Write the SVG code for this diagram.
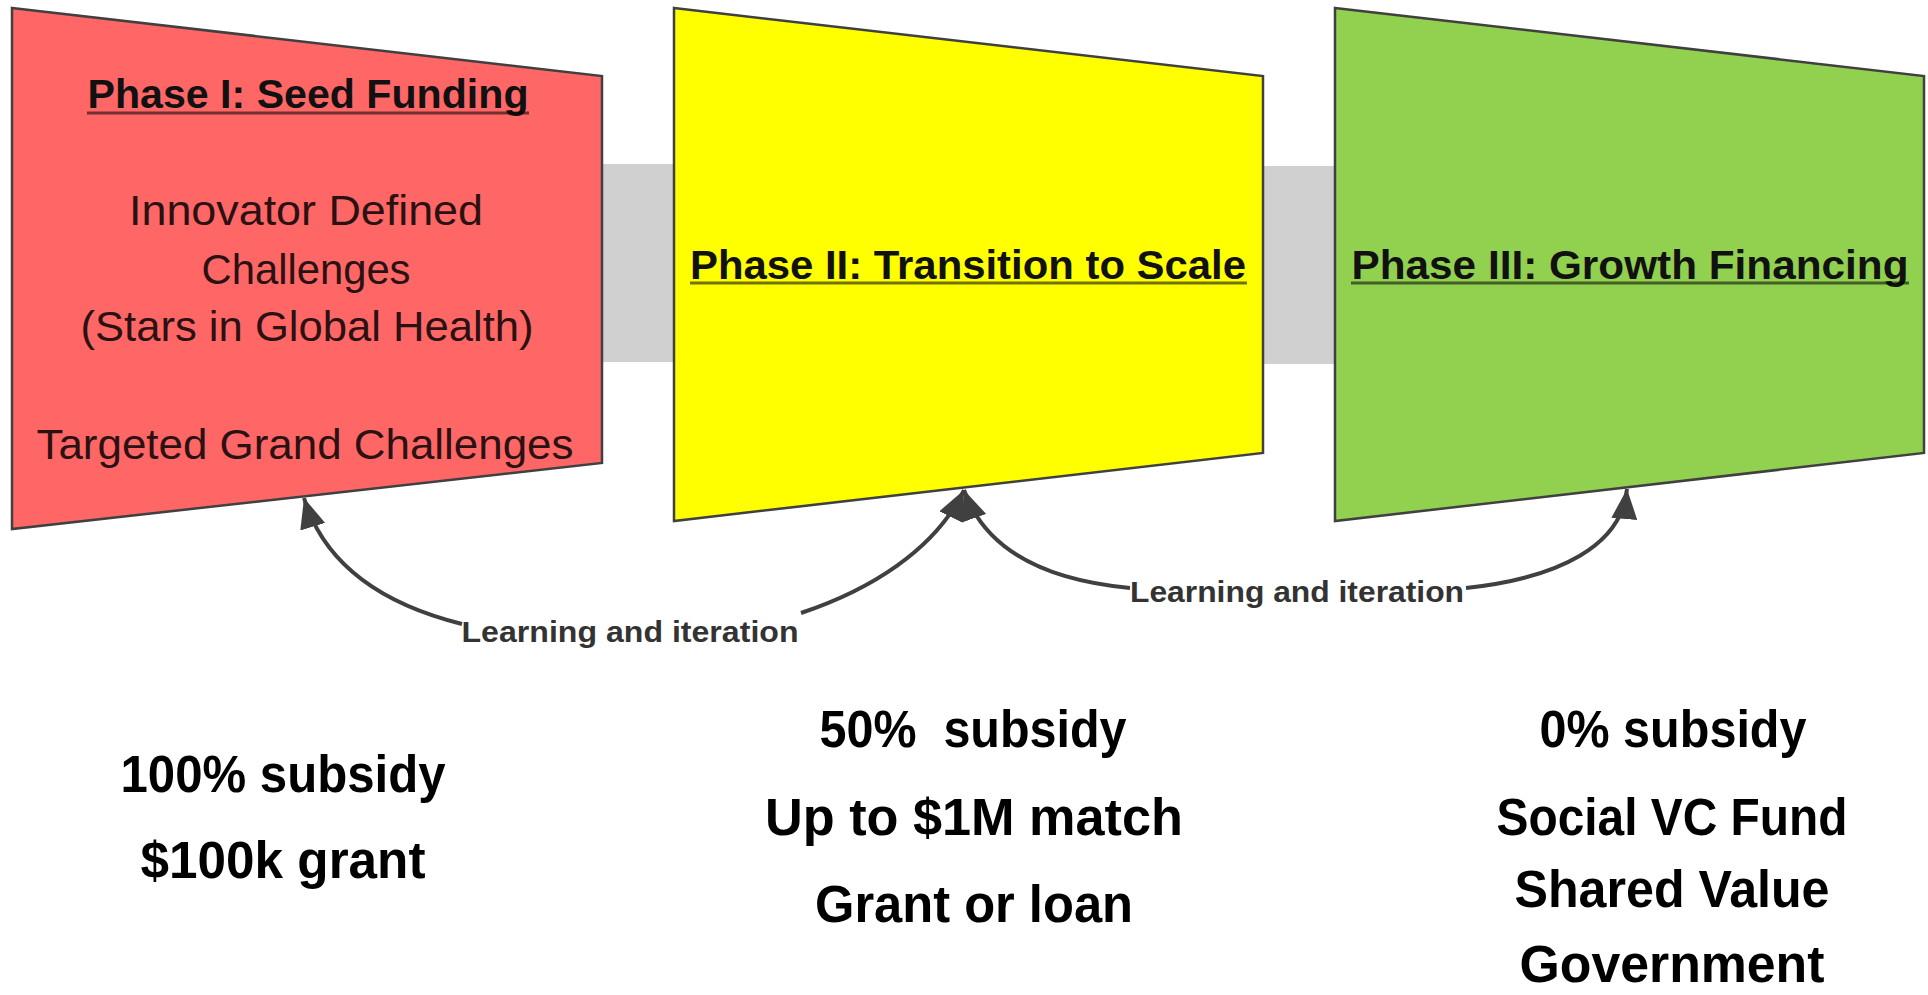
<svg xmlns="http://www.w3.org/2000/svg" width="1928" height="995" viewBox="0 0 1928 995">
<defs>
<style>
.shape{stroke:#404040;stroke-width:2.5;stroke-linejoin:miter}
.bridge{fill:#d0d0d0}
.title{font-family:"Liberation Sans",Arial,sans-serif;font-weight:bold;font-size:41px;fill:#111;text-anchor:middle}
.ul{stroke:#000;stroke-opacity:0.55;stroke-width:3}
.body{font-family:"Liberation Sans",Arial,sans-serif;font-size:43px;fill:#2a1212;text-anchor:middle}
.conn{fill:none;stroke:#404040;stroke-width:4}
.lbl{font-family:"Liberation Sans",Arial,sans-serif;font-weight:bold;font-size:30px;fill:#333;text-anchor:middle}
.big{font-family:"Liberation Sans",Arial,sans-serif;font-weight:bold;font-size:51px;fill:#000;text-anchor:middle}
</style>
<marker id="ah" markerUnits="userSpaceOnUse" markerWidth="30" markerHeight="26" refX="30" refY="13" orient="auto" viewBox="0 0 30 26">
<path d="M0,0 L30,13 L0,26 z" fill="#404040"/>
</marker>
</defs>
<rect width="1928" height="995" fill="#ffffff"/>

<g id="bridges">
<rect class="bridge" x="598" y="164" width="80" height="198"/>
<rect class="bridge" x="1259" y="166" width="80" height="198"/>
</g>

<g id="phase1">
<polygon class="shape" fill="#ff6666" points="12,8 602,76 602,463 12,529"/>
<text class="title" x="308" y="108" textLength="441" lengthAdjust="spacingAndGlyphs">Phase I: Seed Funding</text>
<line class="ul" x1="87" y1="113" x2="529" y2="113"/>
<text class="body" x="306" y="225" textLength="354" lengthAdjust="spacingAndGlyphs">Innovator Defined</text>
<text class="body" x="306" y="284" textLength="209" lengthAdjust="spacingAndGlyphs">Challenges</text>
<text class="body" x="307" y="341" textLength="453" lengthAdjust="spacingAndGlyphs">(Stars in Global Health)</text>
<text class="body" x="305" y="459" textLength="537" lengthAdjust="spacingAndGlyphs">Targeted Grand Challenges</text>
</g>

<g id="phase2">
<polygon class="shape" fill="#ffff00" points="674,8 1263,76 1263,453 674,521"/>
<text class="title" x="968" y="279" textLength="556" lengthAdjust="spacingAndGlyphs">Phase II: Transition to Scale</text>
<line class="ul" x1="690" y1="283" x2="1247" y2="283"/>
</g>

<g id="phase3">
<polygon class="shape" fill="#92d050" points="1335,8 1924,76 1924,453 1335,521"/>
<text class="title" x="1630" y="279" textLength="557" lengthAdjust="spacingAndGlyphs">Phase III: Growth Financing</text>
<line class="ul" x1="1351" y1="283" x2="1909" y2="283"/>
</g>

<g id="connectors">
<path class="conn" marker-end="url(#ah)" d="M462,624 C390,606 326,570 304,498"/>
<path class="conn" marker-end="url(#ah)" d="M801,613 C870,590 935,550 964,490"/>
<path class="conn" marker-end="url(#ah)" d="M1130,588 C1045,580 985,550 964,490"/>
<path class="conn" marker-end="url(#ah)" d="M1466,588 C1560,578 1622,545 1627,489"/>
<text class="lbl" x="630" y="642" textLength="337" lengthAdjust="spacingAndGlyphs">Learning and iteration</text>
<text class="lbl" x="1297" y="602" textLength="334" lengthAdjust="spacingAndGlyphs">Learning and iteration</text>
</g>

<g id="terms1">
<text class="big" x="283" y="792" textLength="325" lengthAdjust="spacingAndGlyphs">100% subsidy</text>
<text class="big" x="283" y="878" textLength="285" lengthAdjust="spacingAndGlyphs">$100k grant</text>
</g>

<g id="terms2">
<text class="big" x="973" y="747" textLength="307" lengthAdjust="spacingAndGlyphs" xml:space="preserve">50%  subsidy</text>
<text class="big" x="974" y="835" textLength="418" lengthAdjust="spacingAndGlyphs">Up to $1M match</text>
<text class="big" x="974" y="922" textLength="318" lengthAdjust="spacingAndGlyphs">Grant or loan</text>
</g>

<g id="terms3">
<text class="big" x="1673" y="747" textLength="267" lengthAdjust="spacingAndGlyphs">0% subsidy</text>
<text class="big" x="1672" y="835" textLength="351" lengthAdjust="spacingAndGlyphs">Social VC Fund</text>
<text class="big" x="1672" y="907" textLength="315" lengthAdjust="spacingAndGlyphs">Shared Value</text>
<text class="big" x="1672" y="982" textLength="305" lengthAdjust="spacingAndGlyphs">Government</text>
</g>
</svg>
